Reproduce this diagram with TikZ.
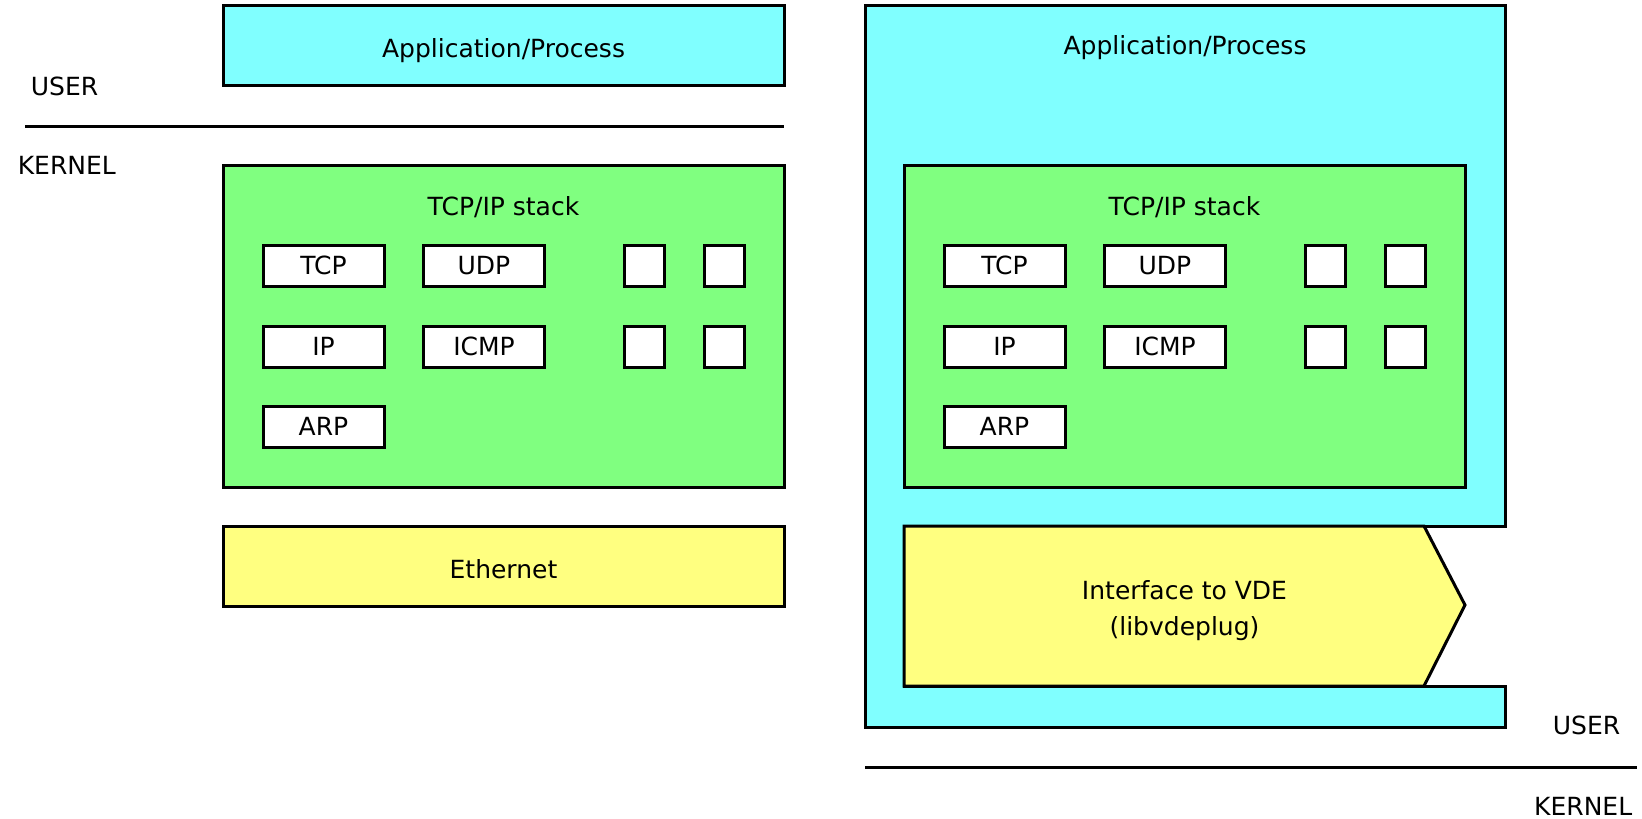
\documentclass[tikz,border=0pt]{standalone}
\usepackage{fontspec}
\setmainfont{DejaVu Sans}
\definecolor{appcyan}{HTML}{80FFFF}
\definecolor{stackgreen}{HTML}{80FF80}
\definecolor{plugyellow}{HTML}{FFFF80}
\begin{document}
\begin{tikzpicture}[x=1pt,y=-1pt,line width=3pt,font=\fontsize{25}{36}\selectfont,
  layer/.style={draw,minimum width=561pt,inner sep=0pt,text height=24pt,text depth=0pt},
  proto/.style={draw,fill=white,minimum width=121pt,minimum height=41pt,inner sep=0pt},
  slot/.style={draw,fill=white,minimum width=40pt,minimum height=41pt,inner sep=0pt}]
\useasboundingbox (0,0) rectangle (1642,819);
%\draw [help lines] (0,0) grid [step=100] (1642,819);

% left: stack in the kernel
\node [layer,fill=appcyan,minimum height=80pt] (appl) at (503.5,45) {Application/Process};
\node [anchor=west] (userl) at (26,86) {USER};
\node [anchor=west] (kernell) at (13,165) {KERNEL};
\draw (25,126) coordinate (sepla) -- (784,126) coordinate (seplb);
\node [layer,fill=plugyellow,minimum height=80pt] (eth) at (503.5,566) {Ethernet};

% right: stack in the process
\draw [fill=appcyan] (865,5) coordinate (procnw) -- (1505,5) -- (1505,526) -- (904,526) -- (904,686)
  -- (1505,686) -- (1505,727) -- (865,727) -- cycle;
\node (appr) at (1185,48) {Application/Process};
\draw [fill=plugyellow] (904,526) -- (1424,526) -- (1465,605) coordinate (plugtip) -- (1424,686) -- (904,686) -- cycle;
\node [align=center] (plug) at (1184.5,611) {Interface to VDE\\(libvdeplug)};
\node [anchor=east] (userr) at (1625,725) {USER};
\draw (865,767) coordinate (sepra) -- (1637,767) coordinate (seprb);
\node [anchor=east] (kernelr) at (1637,806) {KERNEL};

% the two TCP/IP stacks
\foreach \s/\dx in {l/0,r/681}{
  \node [layer,fill=stackgreen,minimum height=322pt] (stack\s) at (503.5+\dx,326) {};
  \node (stacktitle\s) at (503.5+\dx,207) {TCP/IP stack};
  \node [proto] (tcp\s) at (323.5+\dx,265.5) {TCP};
  \node [proto] (udp\s) at (484+\dx,265.5) {UDP};
  \node [proto] (ip\s) at (323.5+\dx,346.5) {IP};
  \node [proto] (icmp\s) at (484+\dx,346.5) {ICMP};
  \node [proto] (arp\s) at (323.5+\dx,426.5) {ARP};
  \node [slot] (slota\s) at (644+\dx,265.5) {};
  \node [slot] (slotb\s) at (724.5+\dx,265.5) {};
  \node [slot] (slotc\s) at (644+\dx,346.5) {};
  \node [slot] (slotd\s) at (724.5+\dx,346.5) {};
}
\end{tikzpicture}
\end{document}
